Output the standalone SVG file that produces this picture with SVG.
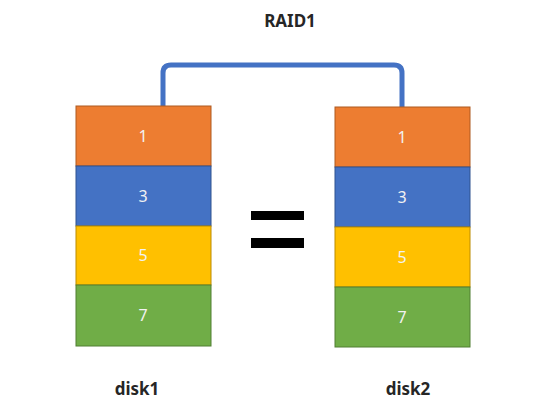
<svg xmlns="http://www.w3.org/2000/svg" width="538" height="412" viewBox="0 0 538 412">
<style>
.lbl{font-family:"Noto Sans","Liberation Sans",sans-serif;font-weight:bold;font-size:17px;fill:#262626;text-anchor:middle}
.num{font-family:"Noto Sans","Liberation Sans",sans-serif;font-size:16px;fill:#f2f2f2;text-anchor:middle}
.o{fill:#ED7D31;stroke:#AE5A21;stroke-width:1}
.b{fill:#4472C4;stroke:#2F528F;stroke-width:1}
.y{fill:#FFC000;stroke:#BC8C00;stroke-width:1}
.g{fill:#70AD47;stroke:#507E32;stroke-width:1}
</style>
<rect width="538" height="412" fill="#ffffff"/>
<text class="lbl" x="290" y="27">RAID1</text>
<g id="connectors">
<path d="M163,106 V73 Q163,65 171,65 H394 Q402,65 402,73 V107" fill="none" stroke="#4472C4" stroke-width="5"/>
</g>
<g id="disk1">
<rect class="o" x="76" y="106" width="135" height="60"/>
<rect class="b" x="76" y="166" width="135" height="60"/>
<rect class="y" x="76" y="226" width="135" height="59"/>
<rect class="g" x="76" y="285" width="135" height="61"/>
<text class="num" x="143" y="142">1</text>
<text class="num" x="143" y="202">3</text>
<text class="num" x="143" y="261">5</text>
<text class="num" x="143" y="321">7</text>
<text class="lbl" x="137" y="395">disk1</text>
</g>
<g id="disk2">
<rect class="o" x="335" y="107" width="135" height="60"/>
<rect class="b" x="335" y="167" width="135" height="60"/>
<rect class="y" x="335" y="227" width="135" height="60"/>
<rect class="g" x="335" y="287" width="135" height="60"/>
<text class="num" x="402" y="143">1</text>
<text class="num" x="402" y="203">3</text>
<text class="num" x="402" y="263">5</text>
<text class="num" x="402" y="323">7</text>
<text class="lbl" x="408" y="395">disk2</text>
</g>
<g id="equals">
<rect x="251" y="211" width="53" height="9" fill="#000"/>
<rect x="251" y="238" width="53" height="10" fill="#000"/>
</g>
</svg>
